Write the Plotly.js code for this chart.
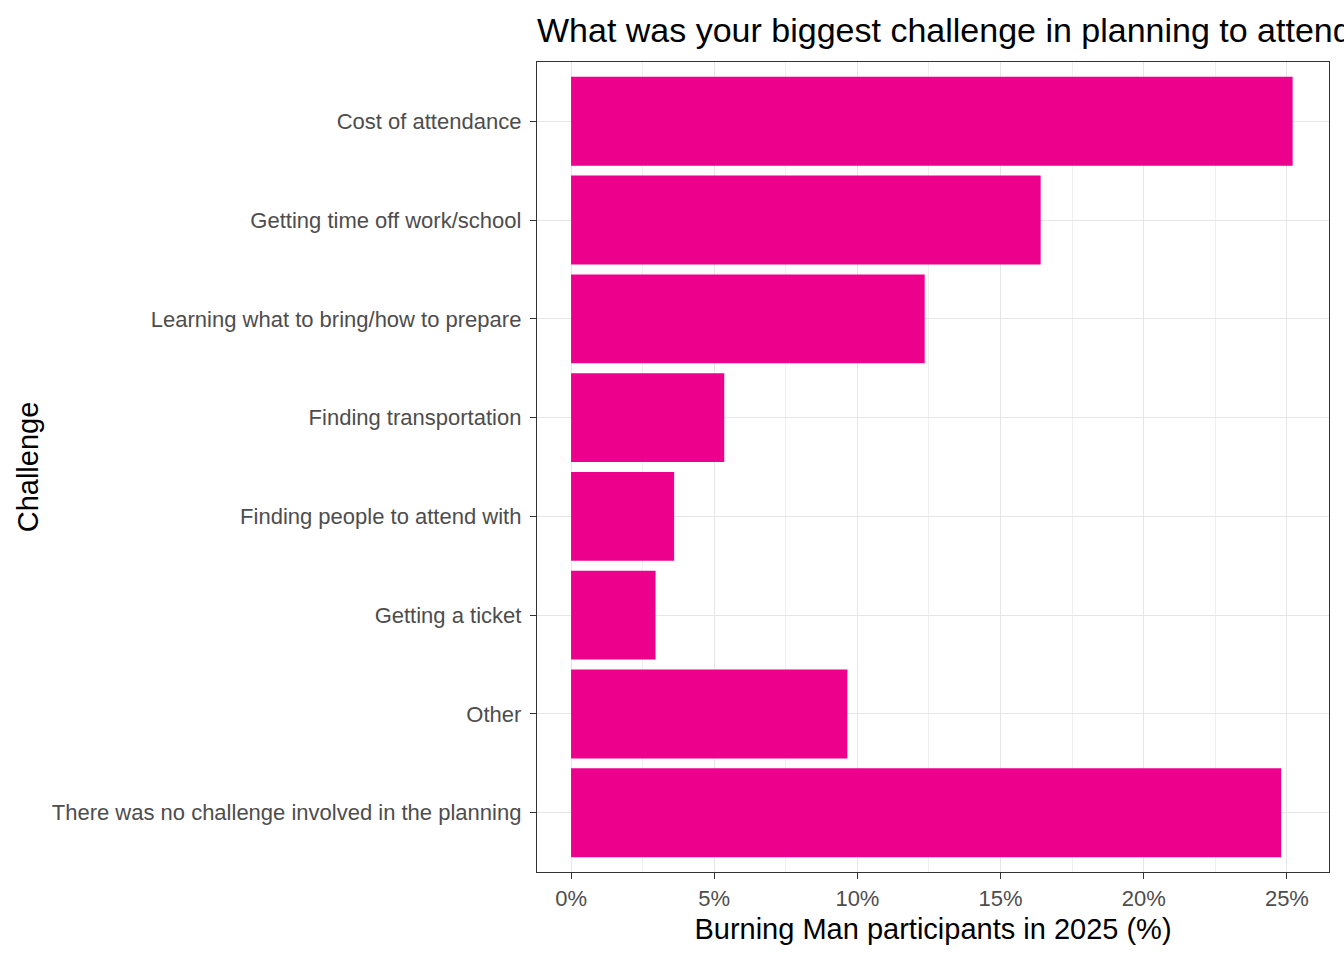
<!DOCTYPE html>
<html>
<head>
<meta charset="utf-8">
<script src="https://cdn.plot.ly/plotly-3.0.1.min.js"></script>
<style>
  body { margin: 0; background: #fff; }
  #chart { width: 1344px; height: 960px; }
</style>
</head>
<body>
<div id="chart"></div>
<script>
// Challenge categories, top to bottom as in the chart
const challenges = [
  'Cost of attendance',
  'Getting time off work/school',
  'Learning what to bring/how to prepare',
  'Finding transportation',
  'Finding people to attend with',
  'Getting a ticket',
  'Other',
  'There was no challenge involved in the planning',
];

// Share of participants (%)
const shares = [25.2, 16.4, 12.35, 5.35, 3.6, 2.95, 9.65, 24.8];

const xTickVals = [0, 5, 10, 15, 20, 25];

const axisColor = '#333333';
const gridColor = '#E6E6E6';

var trace = {
  type: 'bar',
  orientation: 'h',
  x: shares,
  y: challenges,
  marker: { color: '#EC008C' },
  hoverinfo: 'x+y',
};

var layout = {
  width: 1344,
  height: 960,
  margin: { l: 537, r: 15, t: 62, b: 88, pad: 0 },
  paper_bgcolor: '#ffffff',
  plot_bgcolor: '#ffffff',
  font: { family: 'Liberation Sans, Arial, sans-serif', color: '#000000' },
  bargap: 0.1,
  showlegend: false,
  title: {
    text: 'What was your biggest challenge in planning to attend Burning Man 2025?',
    font: { size: 34, color: '#000000' },
    x: 0,
    xref: 'paper',
    xanchor: 'left',
    y: 0.969,
    yref: 'container',
    yanchor: 'middle',
  },
  xaxis: {
    range: [-1.19, 26.47],
    tickvals: xTickVals,
    ticktext: xTickVals.map((v) => v + '%'),
    ticks: 'outside',
    ticklen: 6,
    tickwidth: 1.3,
    tickcolor: axisColor,
    tickfont: { size: 22, color: '#4D4D4D' },
    showgrid: true,
    gridcolor: gridColor,
    gridwidth: 1.4,
    minor: { dtick: 2.5, tick0: 0, showgrid: true, gridcolor: '#EFEFEF', gridwidth: 0.9 },
    zeroline: false,
    showline: true,
    linecolor: axisColor,
    linewidth: 1.4,
    mirror: true,
    title: { text: 'Burning Man participants in 2025 (%)', font: { size: 29, color: '#000000' }, standoff: 9 },
  },
  yaxis: {
    type: 'category',
    categoryorder: 'array',
    categoryarray: challenges.slice().reverse(),
    range: [-0.6, 7.6],
    ticks: 'outside',
    ticklen: 6,
    tickwidth: 1.3,
    tickcolor: axisColor,
    tickfont: { size: 22, color: '#4D4D4D' },
    ticklabelstandoff: 4,
    showgrid: true,
    gridcolor: gridColor,
    gridwidth: 1.4,
    zeroline: false,
    showline: true,
    linecolor: axisColor,
    linewidth: 1.4,
    mirror: true,
    title: { text: 'Challenge', font: { size: 29, color: '#000000' }, standoff: 8 },
  },
};

var config = { responsive: false, displayModeBar: false };

Plotly.newPlot('chart', [trace], layout, config).then(() => {
  // push the y axis title out to the left edge like the original
  const yTitle = document.querySelector('.ytitle');
  if (yTitle) {
    yTitle.setAttribute('x', 38);
    yTitle.setAttribute('transform', 'rotate(-90,38,' + yTitle.getAttribute('y') + ')');
  }
});
</script>
</body>
</html>
